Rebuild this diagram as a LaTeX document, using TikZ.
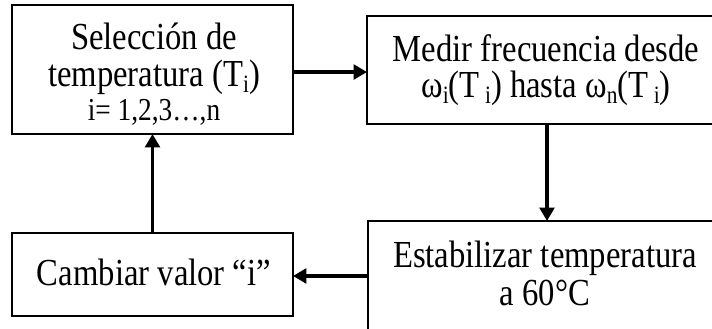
\documentclass[tikz,border=0pt]{standalone}
\usepackage{fontspec}
\usepackage{graphicx}
\setmainfont{Liberation Serif}
\usetikzlibrary{arrows.meta}
\newcommand{\tallt}[1]{\scalebox{1}[1.17]{#1}}
\newcommand{\lowsub}[1]{\raisebox{-3.6pt}{\fontsize{16}{16}\selectfont #1}}
\begin{document}
\begin{tikzpicture}[x=0.75pt,y=-0.75pt,
  box/.style={draw=black,line width=0.9pt,inner sep=0pt,outer sep=0pt},
  txt/.style={anchor=base,inner sep=0pt,font=\fontsize{24.5}{25.5}\selectfont},
  flow/.style={line width=2.4pt,-{Triangle[length=10pt,width=11pt]}}]
\useasboundingbox (0,0) rectangle (712,328);
\clip (0,0) rectangle (712,328);
% boxes
\node[box,minimum width=210.75pt,minimum height=96.75pt] (A) at (152.5,69.5) {};
\node[box,minimum width=270pt,minimum height=81pt] (B) at (547,70) {};
\node[box,minimum width=210.75pt,minimum height=62.25pt] (C) at (152.5,274.5) {};
\node[box,minimum width=265.5pt,minimum height=89.25pt] (D) at (545,280.5) {};
% texts
\node[txt] (ta) at (154,50) {\setlength{\tabcolsep}{0pt}\begin{tabular}[t]{c}
  \tallt{Selección de}\\
  \tallt{temperatura (T\lowsub{i})}\\
  \fontsize{20.5}{25.5}\selectfont\tallt{i= 1,2,3…,n}
  \end{tabular}};
\node[txt] (tb) at (546,61) {\setlength{\tabcolsep}{0pt}\begin{tabular}[t]{c}
  \tallt{Medir frecuencia desde}\\
  \tallt{ω\lowsub{i}(T\,\lowsub{i}) hasta ω\lowsub{n}(T\,\lowsub{i})}
  \end{tabular}};
\node[txt] (tc) at (154,285) {\tallt{Cambiar valor “i”}};
\node[txt,font=\fontsize{24.5}{28.5}\selectfont] (td) at (545,267) {\setlength{\tabcolsep}{0pt}\begin{tabular}[t]{c}
  \tallt{Estabilizar temperatura}\\
  \tallt{a 60°C}
  \end{tabular}};
% connectors
\coordinate (ae) at ([yshift=-1.9pt]A.east);
\draw[flow] (ae) -- (ae -| B.west);
\draw[flow] (B.south) -- (B.south |- D.north);
\coordinate (dw) at ([yshift=3.4pt]D.west);
\draw[flow] (dw) -- (dw -| C.east);
\draw[flow] (C.north) -- (A.south);
\end{tikzpicture}
\end{document}
